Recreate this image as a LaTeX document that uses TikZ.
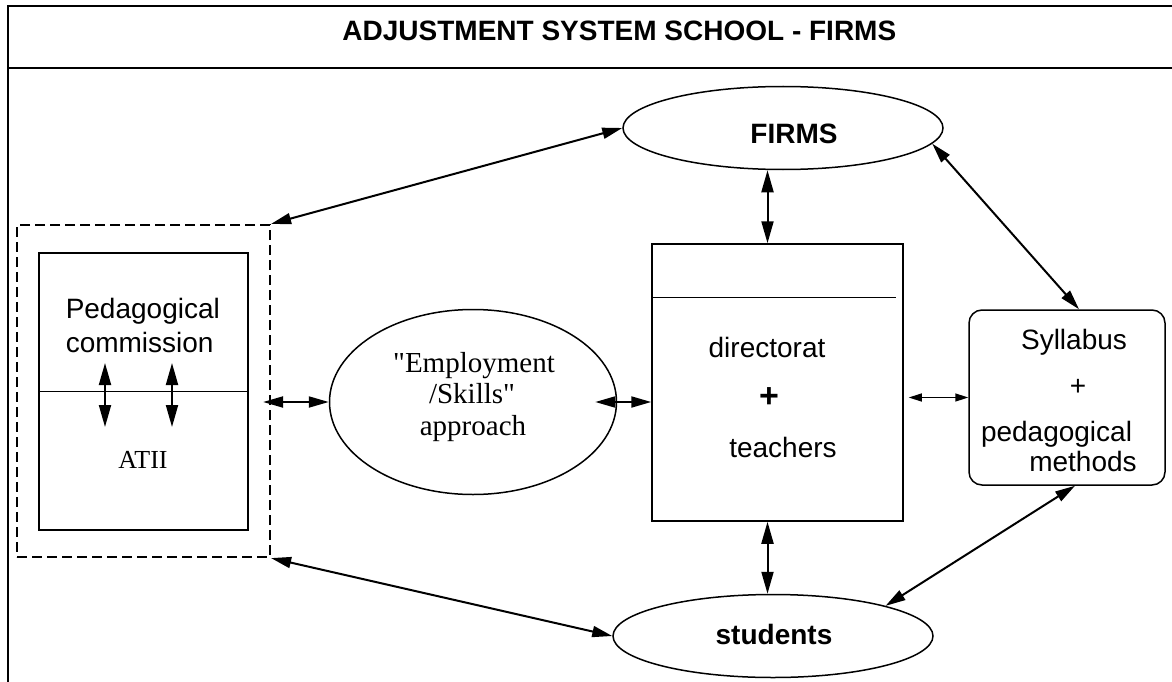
\documentclass[tikz,border=0pt]{standalone}
\usepackage{fontspec}
\setmainfont{Liberation Serif}
\newfontfamily\tnr{Liberation Serif}
\newfontfamily\arial{Liberation Sans}
\usetikzlibrary{arrows.meta,shapes.geometric,calc}
\begin{document}
\begin{tikzpicture}[x=1pt,y=-1pt,
  line width=1.5pt,
  box/.style={draw, rectangle, inner sep=0pt},
  ell/.style={draw, ellipse, inner sep=0pt},
  tip/.style={{Triangle[length=20pt,width=11pt]}-{Triangle[length=20pt,width=11pt]}, line width=2pt},
  smalltip/.style={{Triangle[length=13pt,width=8pt]}-{Triangle[length=13pt,width=8pt]}, line width=1.5pt},
  vtip/.style={{Triangle[length=22pt,width=12pt]}-{Triangle[length=22pt,width=12pt]}, line width=2pt},
  sf/.style={font=\arial\fontsize{28}{32}\selectfont, inner sep=0pt},
  sfb/.style={font=\arial\bfseries\fontsize{28}{32}\selectfont, inner sep=0pt},
  rm/.style={font=\tnr\fontsize{29}{32}\selectfont, inner sep=0pt}]
\useasboundingbox (0,0) rectangle (1172,682);
% frame
\draw[line width=2pt] (8,682) -- (8,6) -- (1172,6);
\draw[line width=2.5pt] (8,68) -- (1172,68);
\node[sfb, anchor=base east] (title) at (897,41) {ADJUSTMENT SYSTEM SCHOOL - FIRMS};
% left group
\node[box, dashed, dash pattern=on 10pt off 5pt, line width=2.2pt, minimum width=253pt, minimum height=332pt] (grp) at (143.5,391) {};
\node[box, minimum width=209pt, minimum height=277pt] (atii) at (143.5,391.5) {};
\draw (atii.west) -- (atii.east);
\node[sf, anchor=base west] (ped1) at (65,318) {Pedagogical};
\node[sf, anchor=base west] (ped2) at (65,352) {commission};
\node[rm, font=\tnr\fontsize{26}{30}\selectfont, anchor=base] (atiit) at (143,468) {ATII};
\coordinate (u1) at (105,363); \coordinate (d1) at (105,427);
\coordinate (u2) at (172,363); \coordinate (d2) at (172,427);
\draw[vtip] (u1) -- (d1);
\draw[vtip] (u2) -- (d2);
% employment
\node[ell, minimum width=287pt, minimum height=185pt] (emp) at (473,402) {};
\node[rm, anchor=base] (emp1) at (474,372) {"Employment};
\node[rm, anchor=base] (emp2) at (472,403) {/Skills"};
\node[rm, anchor=base] (emp3) at (473,435) {approach};
% central box
\node[box, minimum width=251pt, minimum height=277pt] (cbox) at (777.5,382.5) {};
\draw ($(cbox.north west)+(0,54)$) -- ($(cbox.north east)+(-8,54)$);
\node[sf, anchor=base] (dir) at (767,357) {directorat};
\node[sfb, font=\arial\bfseries\fontsize{34}{36}\selectfont] (plus1) at (769,398) {+};
\node[sf, anchor=base] (teach) at (783,457) {teachers};
% syllabus
\node[box, rounded corners=13pt, minimum width=196pt, minimum height=175pt] (syl) at (1067,397.5) {};
\node[sf, anchor=base] (syl1) at (1074,349) {Syllabus};
\node[sf] (plus2) at (1078,387) {+};
\node[sf, anchor=base] (syl2) at (1056.5,441) {pedagogical};
\node[sf, anchor=base] (syl3) at (1083,471) {methods};
% firms, students
\node[ell, minimum width=320pt, minimum height=83pt] (firms) at (783,128) {};
\node[sfb, anchor=base] (firmst) at (794,143) {FIRMS};
\node[ell, minimum width=320pt, minimum height=83pt] (stud) at (773,636) {};
\node[sfb, anchor=base] (studt) at (774,644) {students};
% connectors
\draw[tip] (grp.north east) -- (firms.west);
\draw[tip] (grp.south east) -- (stud.west);
\draw[tip] ($(grp.east |- emp.west)+(-8,0)$) -- (emp.west);
\draw[tip] ($(emp.east)+(-22,0)$) -- (cbox.west |- emp.east);
\draw[smalltip] ($(cbox.east |- syl.west)+(5,0)$) -- (syl.west);
\coordinate (ctop) at ($(cbox.north)+(-10,0)$);
\coordinate (cbot) at ($(cbox.south)+(-10,0)$);
\draw[vtip] (ctop |- firms.south) -- (ctop);
\draw[vtip] (cbot) -- (cbot |- stud.north);
\draw[tip] (firms.-6) -- ($(syl.north)+(12,0)$);
\draw[tip] ($(syl.south)+(8,0)$) -- (stud.15);
\end{tikzpicture}
\end{document}
